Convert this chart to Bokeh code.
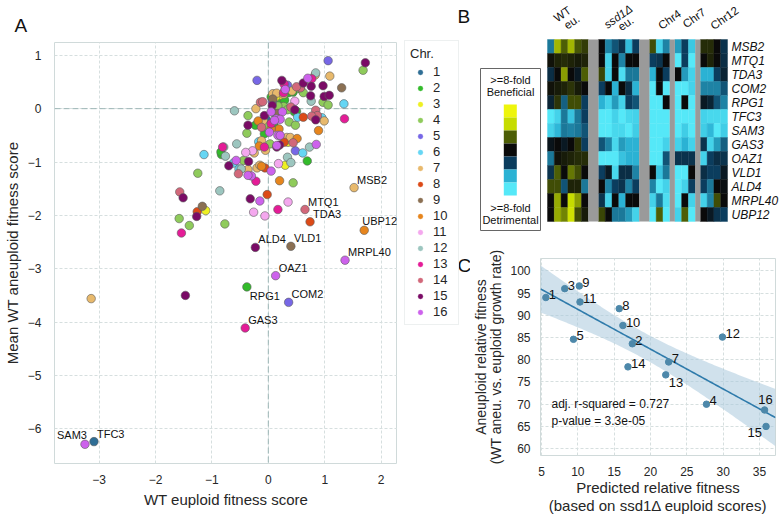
import numpy as np
from bokeh.plotting import figure
from bokeh.models import (Range1d, Legend, LegendItem, Label, ColumnDataSource,
                          FixedTicker, Span, LinearColorMapper)
from bokeh.layouts import row, column
from bokeh.embed import file_html
from bokeh.resources import INLINE
from bokeh.core.properties import value

FONT = "Liberation Sans"
TXT = "#262626"
W, H = 779, 517

# ------------------------- Panel A data -------------------------
chr_colors = ["#2f6e95", "#33bb2b", "#eef022", "#8fcb5b", "#7767e6", "#66d6f4",
              "#e8b96c", "#dc4a17", "#8b7053", "#e6851d", "#f4a8ee", "#9cc6bf",
              "#e41c97", "#d2687a", "#7a0b66", "#cd62ec"]

a_chr = ([1] * 3 + [2] * 17 + [3] * 6 + [4] * 20 + [5] * 5 + [6] * 8 + [7] * 18 + [8] * 5 +
         [9] * 4 + [10] * 8 + [11] * 7 + [12] * 12 + [13] * 10 + [14] * 12 + [15] * 21 + [16] * 17)
a_x = [
    -0.03, 0.15, 0.22,
    -0.23, -0.83, 0.44, 0.57, 0.46, 0.22, 0.29, 0.18, 0.10, -0.07, 0.69, 0.11, 0.50, 0.10, 0.36, -0.84, 0.05,
    -1.11, 0.20, 0.35, 0.30, 0.33, 0.13,
    1.68, -0.36, -0.38, -0.44, -1.25, -1.58, -1.40, -0.77, 0.27, 0.97, 1.06, 0.37, 0.48, -0.03, 0.44, 0.03,
    0.55, 0.17, 0.62, 0.34,
    1.06, -0.20, 0.48, 0.34, 0.07,
    -1.14, -0.52, -0.17, 1.34, 0.52, 0.95, 0.61, -0.62,
    -3.14, -0.22, 0.83, 1.09, 0.08, 0.15, 0.27, 0.99, -0.25, -0.20, -0.15, 0.33, 0.39, -0.05, -0.09, 0.42,
    -0.12, -0.36,
    -1.26, 0.62, -0.06, -0.02, 0.28,
    -1.17, 1.30, 0.17, 0.08,
    -0.18, 0.19, 0.89, 0.51, 0.20, -0.12, 0.05, -0.16,
    -0.28, 0.18, 0.35, -0.26, -0.06, 0.47, -0.40,
    -0.60, -0.56, -0.79, -0.76, -0.48, -0.86, 0.84, 0.76, 0.73, 0.34, 0.40, 0.30,
    -0.81, -0.22, -1.54, 1.35, 0.17, 0.77, 0.28, -0.07, 0.27, 0.05,
    -0.14, -1.57, -0.53, 0.57, 0.40, 0.84, 0.87, 0.77, 0.44, -0.10, 0.50, -0.12,
    1.72, -1.47, -0.36, -0.70, -0.35, -1.51, -1.27, -0.32, 0.24, 0.76, 0.97, 0.75, 0.99, 1.08, 0.07, 0.47,
    -0.07, 0.84, 0.20, 0.15, 0.62,
    -0.15, -0.30, 0.70, 0.05, 0.25, 0.14, 0.21, 0.17, 0.21, 0.15, 0.85, 0.05, -0.36, 0.30, 0.11, -0.57, 0.02,
]
a_y = [
    -0.21, -0.05, 0.19,
    -0.31, -0.86, 0.31, 0.37, -0.06, 0.16, 0.16, 0.03, -0.31, -0.47, -0.98, -0.09, -0.05, -0.34, 0.30, -0.81, 0.22,
    -1.91, 0.25, -0.63, -1.06, -0.57, 0.22,
    0.72, -0.13, -0.46, -0.97, -1.21, -2.06, -2.19, -2.16, 0.04, 0.12, 0.07, -0.25, -0.31, -0.33, -1.39, -0.66,
    0.38, 0.05, 0.30, -0.02,
    0.90, 0.53, -0.79, 0.44, 0.13,
    -0.86, -1.13, -0.62, 0.09, -0.16, -0.17, -0.83, -1.02,
    -3.56, 0.00, 0.63, 0.61, 0.28, 0.29, 0.27, -0.23, -0.83, -1.11, -1.06, -0.54, -0.54, -0.78, -0.22, 0.33,
    -0.60, -1.14,
    -1.93, -0.16, -1.11, -1.61, -0.63,
    -1.83, 0.39, -0.09, 0.18,
    -0.23, -0.38, -0.41, -0.56, -1.35, -1.08, -0.38, -0.70,
    -0.79, -1.03, -1.75, -1.94, -2.01, 0.14, -0.82,
    -0.04, -0.66, -0.72, -0.89, -1.13, -1.54, 0.67, 0.14, -0.72, -0.91, -1.01, 0.37,
    -0.72, -1.36, -2.33, -0.19, -1.89, 0.56, 0.46, -0.72, 0.30, -0.28,
    0.12, -1.56, -1.22, 0.39, 0.03, -0.03, -0.13, -0.14, -0.64, 0.13, 0.41, -0.35,
    0.86, -3.50, -0.31, -1.07, -0.99, -1.67, -2.02, -1.69, 0.53, 0.42, 0.43, 0.24, 0.23, 0.25, 0.06, -0.02,
    -0.13, -0.21, -0.68, -0.72, 0.48,
    -1.73, -1.26, 0.57, -0.06, -0.06, -0.19, -0.20, -0.50, -0.50, -0.69, -0.67, -1.17, -1.25, 0.36, -0.22,
    -0.97, -0.44,
]

gene_names = ["MSB2", "MTQ1", "TDA3", "UBP12", "ALD4", "VLD1", "MRPL40", "OAZ1",
              "RPG1", "COM2", "GAS3", "SAM3", "TFC3"]
gene_chr = [7, 14, 8, 10, 15, 9, 16, 16, 2, 5, 13, 16, 1]
gene_x = [1.52, 0.65, 0.74, 1.70, -0.23, 0.40, 1.36, 0.13, -0.38, 0.36, -0.41, -3.25, -3.09]
gene_y = [-1.48, -1.89, -2.12, -2.28, -2.60, -2.58, -2.84, -3.13, -3.34, -3.63, -4.11, -6.29, -6.24]
gene_label_side = {"RPG1": "below", "SAM3": "left", "UBP12": "up_left"}

a_xticks = [-3, -2, -1, 0, 1, 2]
a_yticks = [-6, -5, -4, -3, -2, -1, 0, 1]

# ------------------------- Panel B data -------------------------
heat_genes = ["MSB2", "MTQ1", "TDA3", "COM2", "RPG1", "TFC3", "SAM3",
              "GAS3", "OAZ1", "VLD1", "ALD4", "MRPL40", "UBP12"]
heat_group_sizes = [6, 6, 3, 3, 4]
heat_values = [
    [-1.5, 1.7, 1.0, 1.7, 0.9, 0.6, 0, -1.6, -1.2, -0.8, -2.2, -1.0, 0.8, -2.6, -1.6, -1.8, -1.0, -2.4, 0.4, 0.4, 0, -0.8],
    [0.1, 0.3, 0.4, 0.3, 0.2, 0.3, 0, -2.6, 0, -1.6, 0, 0, -1.0, -0.8, 0, -3, -1.0, -3, 0, 0.3, 0, -0.7],
    [-0.7, 0, 1.5, 0, -0.3, 1.0, 0.7, -2.6, 0, -2.8, -1.5, -1.5, -2.0, 0, -1.0, 0, -1.8, -2.6, -2.0, -2.0, -1.0, -0.5],
    [0.1, 0.2, 0.3, 0.5, 0.2, 0, -1.0, 0, -2.0, 0, -0.7, -2.0, -3, 0, -3, -3, -3, -2.6, -1.6, -1.6, -1.6, -1.2],
    [-0.5, 0.5, -1.3, 0.8, 0.8, -1.0, -2.0, -2.6, -1.8, -2.6, -1.0, -1.2, -3, -3, 0, -3, 0, -3, -0.3, -0.5, -1.2, -1.6],
    [-3, -2.6, -1.5, -2.3, -1.5, -1.0, -3, -3, -2.6, -3, -2.7, -2.6, -3, -3, -3, -3, -3, -3, -2.6, -2.7, -2.7, -2.7],
    [-2.6, -2.1, -1.5, -1.6, -1.5, -1.2, -3, -3, -2.7, -2.7, -3, -2.5, -3, -3, -3, -3, -2.5, -3, -2.5, -2.1, -3, -2.5],
    [-0.2, 0, -0.3, 0, 0.5, -1.0, -1.2, -1.6, -2.7, -1.8, -2.0, -2.0, -3, -3, -2.6, -2.6, -2.0, -2.6, -0.8, -2.6, -1.8, -1.3],
    [-1.5, 0.1, 0.2, 0.3, 0.4, 0.4, -3, -3, -3, -2.3, -2.0, -2.0, -3, -3, -1.2, -0.8, -0.8, -0.8, -2.6, -1.0, -0.7, -0.8],
    [-0.8, 1.0, 0, 1.2, 0.8, 0, -1.0, -0.3, -2.7, -0.7, -0.7, -1.6, 0, -2.3, -1.5, -3, -3, 0, -0.7, -1.0, -1.0, -0.3],
    [0.8, 0.8, -1.2, 0.3, 0.3, -1.5, 0, -1.6, -1.0, -0.8, -1.6, -1.0, -1.6, -3, -2.6, -3, -2.6, -1.0, -1.0, -1.5, 0, -0.1],
    [0, 1.6, 0, 2.0, 1.5, 0, -0.8, -2.6, 0, -2.0, 0, 0, -2.6, -1.5, -2.8, -3, 0, -2.6, -2.6, -1.6, 0.8, 0],
    [0, 1.6, 1.3, 2.2, 0.8, 0.2, 0.7, 0, -1.5, -1.5, -1.8, -2.6, -3, 1.0, -3, -2.6, 1.0, -3, 0, -0.3, -0.8, -1.0],
]
heat_anchor_colors = ["#55e8f8", "#2bb2d4", "#0b3d5e", "#0a0a0a", "#4d5e05", "#c6dc00", "#eef50c"]

# ------------------------- Panel C data -------------------------
c_chr = ["1", "3", "9", "11", "8", "10", "5", "2", "12", "7", "14", "13", "4", "16", "15"]
c_pred = [5.6, 8.2, 10.2, 10.3, 15.7, 16.2, 9.4, 17.5, 29.9, 22.5, 16.9, 22.1, 27.7, 35.7, 35.9]
c_aneu = [94.0, 96.0, 96.6, 93.0, 91.5, 87.7, 84.6, 83.6, 85.1, 79.5, 78.4, 76.6, 70.0, 68.7, 65.0]
c_label_side = {"13": "below", "15": "below_left", "16": "above"}
c_xticks = [5, 10, 15, 20, 25, 30, 35]
c_yticks = [60, 65, 70, 75, 80, 85, 90, 95, 100]
c_r2_text = "adj. r-squared = 0.727"
c_p_text = "p-value = 3.3e-05"


def minus(t):
    return str(t).replace("-", "\u2212")


def style_axes(p, tick_size="12px", label_size="15px"):
    for ax in p.axis:
        ax.axis_line_color = None
        ax.major_tick_line_color = None
        ax.minor_tick_line_color = None
        ax.major_label_text_font = FONT
        ax.major_label_text_font_size = tick_size
        ax.major_label_text_color = TXT
        ax.axis_label_text_font = FONT
        ax.axis_label_text_font_size = label_size
        ax.axis_label_text_font_style = "normal"
        ax.axis_label_text_color = TXT


def bare(p):
    p.grid.visible = False
    p.outline_line_color = None


# layout columns (page pixels)
A_RIGHT = 397      # right edge of panel A frame
MID_RIGHT = 470    # strip holding legend and panel letters B, C
B_H = 236

# ============================ Panel A ============================
pA = figure(width=A_RIGHT, height=H, output_backend="svg", toolbar_location=None,
            title="A", frame_align=False,
            x_range=Range1d(-3.79, 2.29), y_range=Range1d(-6.65, 1.24),
            min_border_left=43, min_border_right=0, min_border_top=42, min_border_bottom=54)
pA.title.text_font = FONT
pA.title.text_font_size = "19px"
pA.title.text_font_style = "normal"
pA.title.text_color = "#111111"
pA.title.align = "left"
pA.title.offset = -40
pA.title.standoff = 14
pA.outline_line_color = "#d0dada"
pA.grid.grid_line_color = "#d6dfdf"
pA.grid.grid_line_dash = "3 2"
pA.xaxis.ticker = FixedTicker(ticks=a_xticks)
pA.yaxis.ticker = FixedTicker(ticks=a_yticks)
pA.xaxis.major_label_overrides = {t: minus(t) for t in a_xticks}
pA.yaxis.major_label_overrides = {t: minus(t) for t in a_yticks}
pA.xaxis.axis_label = "WT euploid fitness score"
pA.yaxis.axis_label = "Mean WT aneuploid fitness score"
style_axes(pA)
pA.xaxis.major_label_standoff = 5
pA.xaxis.axis_label_standoff = 4
pA.yaxis.major_label_standoff = 7
pA.yaxis.axis_label_standoff = 4

for dim in ("height", "width"):
    pA.add_layout(Span(location=0, dimension=dim, line_color="#9db6b6",
                       line_dash="6 3", line_width=1, level="underlay"))

all_x = a_x + gene_x
all_y = a_y + gene_y
all_c = a_chr + gene_chr
for c in range(1, 17):
    idx = [i for i, k in enumerate(all_c) if k == c]
    pA.scatter([all_x[i] for i in idx], [all_y[i] for i in idx], size=8.5,
               fill_color=chr_colors[c - 1], line_color="#5c5c5c", line_width=0.6)

offs = {"above": (3, -2, "left", "bottom"), "below": (3, 3, "left", "top"),
        "left": (2, -3, "right", "bottom"), "up_left": (-2, -3, "left", "bottom")}
g_xo, g_yo, g_al, g_bl = [], [], [], []
for g in gene_names:
    xo, yo, al, bl = offs[gene_label_side.get(g, "above")]
    g_xo.append(xo); g_yo.append(yo); g_al.append(al); g_bl.append(bl)
gsrc = ColumnDataSource(dict(x=gene_x, y=gene_y, t=gene_names, xo=g_xo, yo=g_yo, al=g_al, bl=g_bl))
pA.text(x="x", y="y", text="t", source=gsrc, x_offset="xo", y_offset="yo",
        text_align="al", text_baseline="bl", text_font=value(FONT),
        text_font_size="11px", text_color="#111111")

# ===================== middle strip: legend + letters =====================
pL = figure(width=MID_RIGHT - A_RIGHT, height=H, output_backend="svg", toolbar_location=None,
            frame_align=False, x_range=Range1d(A_RIGHT, MID_RIGHT), y_range=Range1d(H, 0),
            x_axis_location=None, y_axis_location=None,
            min_border_left=0, min_border_right=0, min_border_top=0, min_border_bottom=0)
bare(pL)
items = []
nan = float("nan")
for c in range(1, 17):
    # legend proxy: a single undrawn (NaN) point carrying the chromosome colour
    r = pL.scatter(x=[nan], y=[nan], size=8.5, fill_color=chr_colors[c - 1],
                   line_color=chr_colors[c - 1], line_width=0.4)
    items.append(LegendItem(label=str(c), renderers=[r]))
LEG_H = 283
leg = Legend(items=items, title="Chr.", location=(7, H - 42 - LEG_H))
leg.title_text_font = FONT
leg.title_text_font_size = "13px"
leg.title_text_font_style = "normal"
leg.title_text_color = TXT
leg.title_standoff = 3
leg.label_text_font = FONT
leg.label_text_font_size = "13px"
leg.label_text_color = TXT
leg.glyph_width = 20
leg.glyph_height = 12
leg.label_height = 12
leg.label_standoff = 3
leg.spacing = 1
leg.padding = 5
leg.margin = 0
leg.border_line_color = "#dbe2e2"
pL.add_layout(leg)
for letter, lx, ly in (("B", 457, 5), ("C", 457, 254)):
    pL.add_layout(Label(x=lx, y=ly, text=letter, text_font=FONT, text_font_size="19px",
                        text_baseline="top", text_color="#111111"))

# ============================ Panel B ============================
gaps = [1.5, 1.5, 0.75, 0.75]
starts = []
pos = 0.0
for gi, size in enumerate(heat_group_sizes):
    starts.append(pos)
    pos += size
    if gi < len(gaps):
        pos += gaps[gi]
heat_total = pos
HEAT_L, HEAT_R, HEAT_T, ROW_PX = 547, 727, 39, 14.0
unit_px = (HEAT_R - HEAT_L) / heat_total
x_left = (MID_RIGHT - HEAT_L) / unit_px
x_right = heat_total + (W - HEAT_R) / unit_px
nrow = len(heat_genes)
ntop = nrow - 0.5
y_top = ntop + HEAT_T / ROW_PX
y_bot = y_top - B_H / ROW_PX


def py2y(py):
    return ntop + (HEAT_T - py) / ROW_PX


def px2x(px):
    return (px - HEAT_L) / unit_px


pB = figure(width=W - MID_RIGHT, height=B_H, output_backend="svg", toolbar_location=None,
            frame_align=False, x_range=Range1d(x_left, x_right), y_range=Range1d(y_bot, y_top),
            x_axis_location=None, y_axis_location=None,
            min_border_left=0, min_border_right=0, min_border_top=0, min_border_bottom=0)
bare(pB)


def hex2rgb(h):
    return np.array([int(h[i:i + 2], 16) for i in (1, 3, 5)], dtype=float)


anchors = [hex2rgb(h) for h in heat_anchor_colors]
palette = []
steps = 20
for i in range(len(anchors) - 1):
    for s in range(steps):
        f = s / steps
        cc = anchors[i] * (1 - f) + anchors[i + 1] * f
        palette.append("#%02x%02x%02x" % tuple(int(round(v)) for v in cc))
palette.append(heat_anchor_colors[-1])
mapper = LinearColorMapper(palette=palette, low=-3, high=3)

hx, hy, hv = [], [], []
for gi_row, gene in enumerate(heat_genes):
    col = 0
    for g, size in enumerate(heat_group_sizes):
        for k in range(size):
            hx.append(starts[g] + k + 0.5)
            hy.append(nrow - 1 - gi_row)
            hv.append(heat_values[gi_row][col])
            col += 1
hsrc = ColumnDataSource(dict(x=hx, y=hy, v=hv))
pB.rect(x="x", y="y", width=1, height=1, source=hsrc,
        fill_color={"field": "v", "transform": mapper},
        line_color={"field": "v", "transform": mapper}, line_width=0.4)
pB.quad(left=[starts[g] + heat_group_sizes[g] for g in range(len(gaps))],
        right=[starts[g + 1] for g in range(len(gaps))],
        bottom=-0.5, top=ntop, fill_color="#9a9a9a", line_color=None)

pB.text(x=[heat_total] * nrow, y=[nrow - 1 - i for i in range(nrow)], text=heat_genes,
        x_offset=4, text_align="left", text_baseline="middle", text_font=value(FONT),
        text_font_style="italic", text_font_size="12px", text_color="#111111")

centers = [starts[g] + heat_group_sizes[g] / 2 for g in range(len(heat_group_sizes))]
grp_lab = [("WT", 0, -5.5, 25.5, "normal"), ("eu.", 0, 4, 17.5, "normal"),
           ("ssd1\u0394", 1, -0.6, 23, "italic"), ("eu.", 1, 7, 16, "normal"),
           ("Chr4", 2, 10, 20, "normal"), ("Chr7", 3, 9, 21.5, "normal"),
           ("Chr12", 4, 10.5, 21.5, "normal")]
for txt, g, xo, yo, st in grp_lab:
    pB.add_layout(Label(x=centers[g], y=ntop, x_offset=xo, y_offset=yo, text=txt,
                        angle=35, angle_units="deg", text_align="center",
                        text_baseline="middle", text_font=FONT, text_font_size="11.5px",
                        text_font_style=st, text_color="#111111"))

# colour key
pB.quad(left=[px2x(480)], right=[px2x(540)], top=[py2y(68)], bottom=[py2y(230)],
        fill_color=None, line_color="#666666", line_width=1)
sq_top = py2y(104)
sq_h = 13 / ROW_PX
key_cols = heat_anchor_colors[::-1]
pB.quad(left=px2x(503.3), right=px2x(516.3),
        top=[sq_top - i * sq_h for i in range(len(key_cols))],
        bottom=[sq_top - (i + 1) * sq_h for i in range(len(key_cols))],
        fill_color=key_cols, line_color=None)
for txt, py in ((">=8-fold", 79), ("Beneficial", 91.7), (">=8-fold", 207), ("Detrimental", 219.3)):
    pB.add_layout(Label(x=px2x(510), y=py2y(py), text=txt, text_align="center",
                        text_baseline="middle", text_font=FONT, text_font_size="11px",
                        text_color="#111111"))

# ============================ Panel C ============================
C_FL, C_FR = 537, 775
C_X5, C_PXU = 538, 7.36          # pixel of x=5 and pixels per unit in the reference
cx0 = 5 - (C_X5 - C_FL) / C_PXU
cx1 = cx0 + (C_FR - C_FL) / C_PXU
pC = figure(width=W - MID_RIGHT, height=H - B_H, output_backend="svg", toolbar_location=None,
            frame_align=False, x_range=Range1d(cx0, cx1), y_range=Range1d(58.46, 102.78),
            min_border_left=C_FL - MID_RIGHT, min_border_right=W - C_FR,
            min_border_top=258 - B_H, min_border_bottom=H - 459)
pC.outline_line_color = "#d0dada"
pC.grid.grid_line_color = "#d6dfdf"
pC.grid.grid_line_dash = "3 2"
pC.xaxis.ticker = FixedTicker(ticks=c_xticks)
pC.yaxis.ticker = FixedTicker(ticks=c_yticks)
pC.xaxis.axis_label = "Predicted relative fitness\n(based on ssd1\u0394 euploid scores)"
pC.yaxis.axis_label = "Aneuploid relative fitness\n(WT aneu. vs. euploid growth rate)"
style_axes(pC)
pC.yaxis.axis_label_text_font_size = "14px"
pC.xaxis.axis_label_text_line_height = 1.1
pC.yaxis.axis_label_text_line_height = 0.95
pC.xaxis.major_label_standoff = 5
pC.xaxis.axis_label_standoff = 0
pC.yaxis.major_label_standoff = 4
pC.yaxis.axis_label_standoff = 3

xp = np.array(c_pred)
yp = np.array(c_aneu)
slope, icpt = np.polyfit(xp, yp, 1)
xs = np.linspace(cx0, cx1, 120)
fit = icpt + slope * xs
n = len(xp)
resid = yp - (icpt + slope * xp)
s = np.sqrt(np.sum(resid ** 2) / (n - 2))
xm = xp.mean()
sxx = np.sum((xp - xm) ** 2)
se = s * np.sqrt(1.0 / n + (xs - xm) ** 2 / sxx)
tval = 2.16
pC.varea(x=xs, y1=fit - tval * se, y2=fit + tval * se, fill_color="#aac9dd", fill_alpha=0.55)
pC.line(xs, fit, line_color="#2f7bab", line_width=1.6)
pC.scatter(c_pred, c_aneu, size=6.5, fill_color="#4d88aa", line_color="#4d88aa")

coffs = {"above_right": (3, 1, "left", "bottom"), "below": (3, 3, "left", "top"),
         "below_left": (-4, 2, "right", "top"), "above": (1, -6, "center", "bottom")}
c_xo, c_yo, c_al, c_bl = [], [], [], []
for lab in c_chr:
    xo, yo, al, bl = coffs[c_label_side.get(lab, "above_right")]
    c_xo.append(xo); c_yo.append(yo); c_al.append(al); c_bl.append(bl)
csrc = ColumnDataSource(dict(x=c_pred, y=c_aneu, t=c_chr, xo=c_xo, yo=c_yo, al=c_al, bl=c_bl))
pC.text(x="x", y="y", text="t", source=csrc, x_offset="xo", y_offset="yo",
        text_align="al", text_baseline="bl", text_font=value(FONT),
        text_font_size="13px", text_color="#111111")

pC.add_layout(Label(x=cx0, y=70.0, x_offset=(548 - C_FL), text=c_r2_text, text_baseline="middle",
                    text_font=FONT, text_font_size="12px", text_color="#111111"))
pC.add_layout(Label(x=cx0, y=66.3, x_offset=(548 - C_FL), text=c_p_text, text_baseline="middle",
                    text_font=FONT, text_font_size="12px", text_color="#111111"))

layout = row(pA, pL, column(pB, pC))
open("out.html", "w").write(file_html(layout, INLINE))
